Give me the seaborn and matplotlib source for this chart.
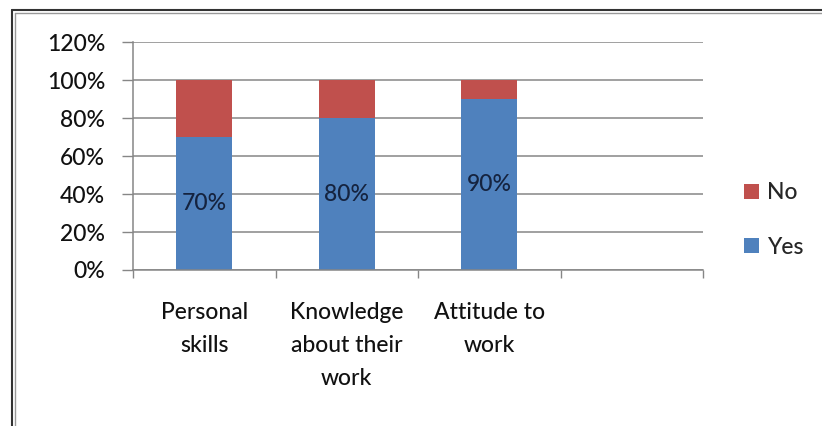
import matplotlib
matplotlib.use("Agg")
import matplotlib.pyplot as plt
import seaborn as sns
import pandas as pd
from matplotlib.lines import Line2D
from matplotlib.patches import Patch
from matplotlib.ticker import FixedLocator

categories = ["Personal\nskills", "Knowledge\nabout their\nwork", "Attitude to\nwork"]
yes_values = [70, 80, 90]
no_values = [30, 20, 10]
y_ticks = [0, 20, 40, 60, 80, 100, 120]
y_tick_labels = ["0%", "20%", "40%", "60%", "80%", "100%", "120%"]

sns.set_theme(style="white")
plt.rcParams['font.family'] = ['Lato', 'DejaVu Sans']
plt.rcParams['font.weight'] = 'medium'

BLUE = "#4F81BD"
RED = "#C0504D"
FS = 16.5

df = pd.DataFrame({"cat": categories, "yes": yes_values,
                   "total": [y + n for y, n in zip(yes_values, no_values)]})

fig = plt.figure(figsize=(8.22, 4.26), dpi=100)
ax = fig.add_axes([133/822, 1 - 270/426, (703 - 133)/822, (270 - 42)/426])

sns.barplot(data=df, x="cat", y="total", color=RED, saturation=1, width=0.39,
            linewidth=0, ax=ax)
sns.barplot(data=df, x="cat", y="yes", color=BLUE, saturation=1, width=0.39,
            linewidth=0, ax=ax)

ax.set_xlim(-0.5, 3.5)
ax.set_ylim(0, 120)
ax.set_xlabel("")
ax.set_ylabel("")

# gridlines
ax.set_yticks(y_ticks)
ax.set_yticklabels(y_tick_labels, fontsize=FS, color="#111111")
ax.yaxis.grid(True, color="#868686", linewidth=1.1)
ax.set_axisbelow(True)
ax.tick_params(axis="y", length=8, width=1, color="#868686", pad=12, left=True)

# x ticks: boundaries as major, labels at minor
ax.xaxis.set_major_locator(FixedLocator([-0.5, 0.5, 1.5, 2.5, 3.5]))
ax.set_xticklabels([""] * 5)
ax.xaxis.set_minor_locator(FixedLocator([0, 1, 2]))
ax.set_xticklabels(categories, minor=True, fontsize=FS, color="#111111", linespacing=1.7, va="top")
ax.tick_params(axis="x", which="major", length=6, width=1, color="#868686", bottom=True)
ax.tick_params(axis="x", which="minor", length=0, pad=23)

for s in ["top", "right"]:
    ax.spines[s].set_visible(False)
for s in ["left", "bottom"]:
    ax.spines[s].set_color("#868686")
    ax.spines[s].set_linewidth(1.1)

# data labels
for i, v in enumerate(yes_values):
    ax.text(i, v / 2, f"{v}%", ha="center", va="center", fontsize=FS, color="#15233f")

# legend
handles = [Patch(facecolor=RED, edgecolor="none", label="No"),
           Patch(facecolor=BLUE, edgecolor="none", label="Yes")]
fig.legend(handles=handles, loc="center left", bbox_to_anchor=(723/822, 1 - 220/426),
           frameon=False, fontsize=FS, handlelength=0.65, handleheight=0.65,
           handletextpad=0.35, labelspacing=1.45)

# outer frame (double line)
fig.add_artist(Line2D([11.5/822, 11.5/822], [0, 1 - 9.5/426], transform=fig.transFigure, color="#333333", lw=1.5))
fig.add_artist(Line2D([11.5/822, 1], [1 - 9.5/426, 1 - 9.5/426], transform=fig.transFigure, color="#333333", lw=1.5))
fig.add_artist(Line2D([15/822, 15/822], [0, 1 - 13/426], transform=fig.transFigure, color="#999999", lw=1.0))
fig.add_artist(Line2D([15/822, 1], [1 - 13/426, 1 - 13/426], transform=fig.transFigure, color="#999999", lw=1.0))

fig.savefig("out.png", dpi=100)
